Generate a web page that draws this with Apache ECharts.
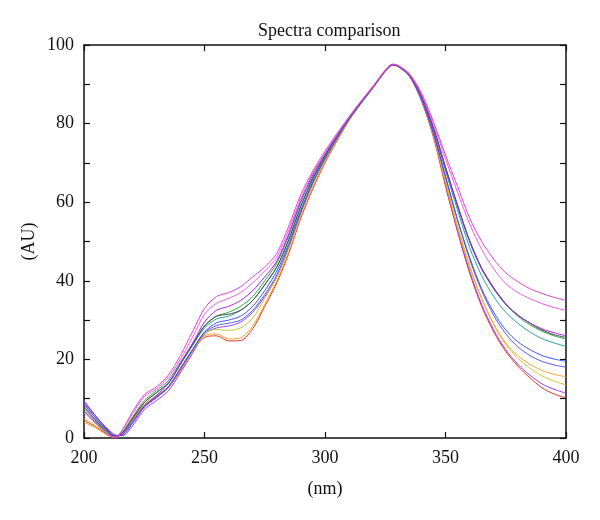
<!DOCTYPE html>
<html>
<head>
<meta charset="utf-8">
<script src="https://cdn.jsdelivr.net/npm/echarts@6/dist/echarts.min.js"></script>
<style>
  body { margin: 0; background: #fff; }
  #chart { width: 600px; height: 520px; }
</style>
</head>
<body>
<div id="chart"></div>
<script>
    // wavelength (nm)
    var wavelength = [200, 205, 210, 213, 216, 220, 225, 230, 235, 240, 245, 250, 255, 260, 265, 270, 275, 280, 285, 290, 295, 300, 305, 310, 315, 320, 325, 328, 330, 335, 340, 345, 350, 355, 360, 365, 370, 375, 380, 385, 390, 395, 400];

    // absorbance (AU) of each spectrum
    var magenta = [7, 3.8, 0.8, 0.2, 2.2, 6.5, 11, 13, 16, 21, 27, 33, 36, 37, 38.5, 41, 43.5, 47, 54, 62, 68, 73, 77.5, 81.8, 85.8, 89.6, 93.6, 95.1, 94.9, 92.7, 87.8, 80.5, 72, 64, 56, 50, 45.5, 42, 39.8, 38, 36.8, 35.8, 35];
    var pink = [6.5, 3.6, 0.8, 0.2, 2, 6, 10.5, 12.5, 15.3, 20, 25.6, 31.5, 34.3, 35.5, 37, 39.5, 42.5, 46, 53, 61, 67.5, 72.5, 77.2, 81.6, 85.7, 89.5, 93.6, 95.1, 94.9, 92.6, 87.5, 79.8, 71, 62.5, 54.5, 48, 43, 39.3, 37, 35.5, 34.2, 33.2, 32.5];
    var purple = [8.8, 5, 1.8, 0.5, 1, 4, 8, 10.8, 13.8, 18.8, 24, 29.5, 32.5, 33.5, 35, 37.5, 41, 45, 52, 60.5, 67, 72.3, 77, 81.6, 85.6, 89.4, 93.5, 95, 94.8, 92.4, 86.8, 78.5, 68.5, 59, 50, 43, 38, 34, 31.3, 29.3, 27.8, 26.8, 26];
    var dark = [8, 4.5, 1.5, 0.3, 1.3, 4.8, 9, 11.5, 14, 18.8, 23.6, 28.5, 31, 31.5, 32.5, 35, 39, 43.5, 50.5, 59, 66, 71.8, 76.8, 81.4, 85.5, 89.4, 93.5, 95, 94.8, 92.4, 87, 79, 69, 59.3, 50.3, 43.3, 38.3, 34.2, 31.3, 29.2, 27.5, 26.3, 25.6];
    var green = [6.8, 4, 1.2, 0.3, 1.5, 5.2, 9.5, 12, 14.6, 19.3, 24, 28.5, 31, 32, 33.5, 36, 40, 44.5, 51.5, 60, 66.5, 72, 77, 81.5, 85.5, 89.4, 93.5, 95, 94.8, 92.4, 87, 79, 68.8, 59, 50, 43, 38, 34, 31, 28.8, 27.2, 26, 25.2];
    var teal = [7.5, 4.3, 1.4, 0.3, 1.3, 4.8, 9, 11.5, 14, 18.8, 23.5, 28, 30.3, 31, 32.5, 35, 39, 43.5, 50.5, 59, 66, 71.6, 76.6, 81.3, 85.4, 89.3, 93.4, 95, 94.8, 92.3, 86.8, 78.6, 68, 58, 48.5, 41.3, 36, 32, 29.2, 27, 25.3, 24.2, 23.3];
    var blue = [9.5, 5.5, 2, 0.6, 0.7, 3.6, 7.8, 10.2, 13, 17.8, 22.5, 27, 29.3, 30, 31, 33.5, 37.5, 42.5, 49.5, 58, 65.3, 71.2, 76.4, 81.2, 85.3, 89.3, 93.4, 94.9, 94.7, 92.2, 86.2, 77.5, 66.5, 55.5, 46, 38, 32, 27.5, 24.5, 22.5, 21, 20.1, 19.5];
    var slate = [8.5, 5, 1.8, 0.5, 0.9, 4, 8.2, 10.5, 13, 17.6, 22.3, 26.8, 28.6, 29.2, 30, 32.5, 36.5, 41.5, 49, 57.5, 65, 71, 76.2, 81.1, 85.3, 89.3, 93.4, 94.9, 94.7, 92.2, 86.3, 77.8, 66.5, 55.5, 45.5, 37.5, 31.2, 26.5, 23.2, 21, 19.5, 18.6, 18];
    var orange = [4, 2.5, 0.6, 0.1, 1.5, 4.8, 8.6, 10.8, 13, 17.3, 22, 26, 26.5, 25.2, 25.5, 28.5, 34, 40, 47.5, 56.5, 64, 70.3, 75.8, 80.9, 85.2, 89.2, 93.3, 94.9, 94.7, 92.1, 86, 77, 65, 53.5, 43.5, 35.5, 29, 24.2, 21, 18.8, 17.2, 16.2, 15.6];
    var yellow = [5, 3, 1, 0.2, 1.4, 4.6, 8.4, 10.7, 13, 17.5, 22.3, 26.5, 27.6, 27.4, 28, 30.5, 35.5, 41, 48.5, 57.5, 64.8, 70.8, 76, 81, 85.2, 89.2, 93.3, 94.9, 94.7, 92.1, 86.2, 77.3, 65.5, 54, 44, 35.5, 28.8, 23.8, 20.3, 17.8, 15.8, 14.5, 13.5];
    var violet = [9.2, 5.5, 2.2, 0.8, 0.6, 3, 7.2, 9.5, 12, 16.6, 21.5, 26.5, 28, 28.5, 29.5, 32, 36, 41, 48.5, 57.3, 64.8, 70.8, 76, 81, 85.2, 89.2, 93.3, 94.9, 94.7, 92.1, 86, 77, 64.8, 52.8, 42.5, 34, 27.5, 22.5, 18.8, 16, 13.8, 12.4, 11.4];
    var red = [4.5, 2.8, 0.8, 0.2, 1.3, 4.5, 8.2, 10.3, 12.8, 17.1, 22, 25.6, 26, 24.7, 24.8, 27.8, 33.5, 39.5, 47, 56, 63.5, 70, 75.6, 80.8, 85.1, 89.1, 93.2, 94.8, 94.6, 92, 85.8, 76.5, 64, 52.5, 42, 33.5, 27, 22, 18.3, 15.3, 12.8, 11.2, 10.2];

    var spectra = [red, violet, yellow, orange, slate, blue, teal, green, dark, purple, pink, magenta];
    var spectraColors = ['#e4351f', '#9242f0', '#c9c62e', '#f2a234', '#5a5ad8', '#3a55e6', '#25a0a0', '#2ea84a', '#4a4a4a', '#a326e0', '#ec5ce6', '#d943d0'];

    var myChart = echarts.init(document.getElementById('chart'));

    var serif = 'Liberation Serif';
    var seriesList = [];
    for (var i = 0; i < spectra.length; i++) {
        var pts = [];
        for (var j = 0; j < wavelength.length; j++) {
            pts.push([wavelength[j], spectra[i][j]]);
        }
        seriesList.push({
            type: 'line',
            data: pts,
            smooth: 0.3,
            showSymbol: false,
            lineStyle: {width: 1, color: spectraColors[i]},
            itemStyle: {color: spectraColors[i]}
        });
    }

    var axisLine = {show: true, onZero: false, lineStyle: {color: '#111', width: 1.5}};
    var ticks = {inside: true, length: 6, lineStyle: {color: '#111', width: 1.2}};

    var option = {
        animation: false,
        backgroundColor: '#fff',
        title: {
            text: 'Spectra comparison',
            left: 253,
            top: 17,
            textStyle: {fontFamily: serif, fontSize: 18, fontWeight: 'normal', color: '#111'}
        },
        grid: {left: 84, right: 34, top: 45, bottom: 82},
        xAxis: [
            {
                type: 'value',
                min: 200,
                max: 400,
                interval: 50,
                name: '(nm)',
                nameLocation: 'middle',
                nameGap: 42,
                nameTextStyle: {fontFamily: serif, fontSize: 18, color: '#111'},
                axisLine: axisLine,
                axisTick: ticks,
                axisLabel: {fontFamily: serif, fontSize: 18, color: '#111', margin: 11},
                splitLine: {show: false}
            },
            {
                type: 'value',
                position: 'top',
                min: 200,
                max: 400,
                interval: 50,
                axisLine: axisLine,
                axisTick: ticks,
                axisLabel: {show: false},
                splitLine: {show: false}
            }
        ],
        yAxis: [
            {
                type: 'value',
                min: 0,
                max: 100,
                interval: 10,
                name: '(AU)',
                nameLocation: 'middle',
                nameGap: 46,
                nameMoveOverlap: false,
                nameTextStyle: {fontFamily: serif, fontSize: 18, color: '#111'},
                axisLine: axisLine,
                axisTick: ticks,
                axisLabel: {
                    fontFamily: serif, fontSize: 18, color: '#111', margin: 10,
                    formatter: function (v) { return v % 20 === 0 ? v : ''; }
                },
                splitLine: {show: false}
            },
            {
                type: 'value',
                position: 'right',
                min: 0,
                max: 100,
                interval: 10,
                axisLine: axisLine,
                axisTick: ticks,
                axisLabel: {show: false},
                splitLine: {show: false}
            }
        ],
        series: seriesList
    };

    myChart.setOption(option);
    window.onresize = myChart.resize;
</script>
</body>
</html>
